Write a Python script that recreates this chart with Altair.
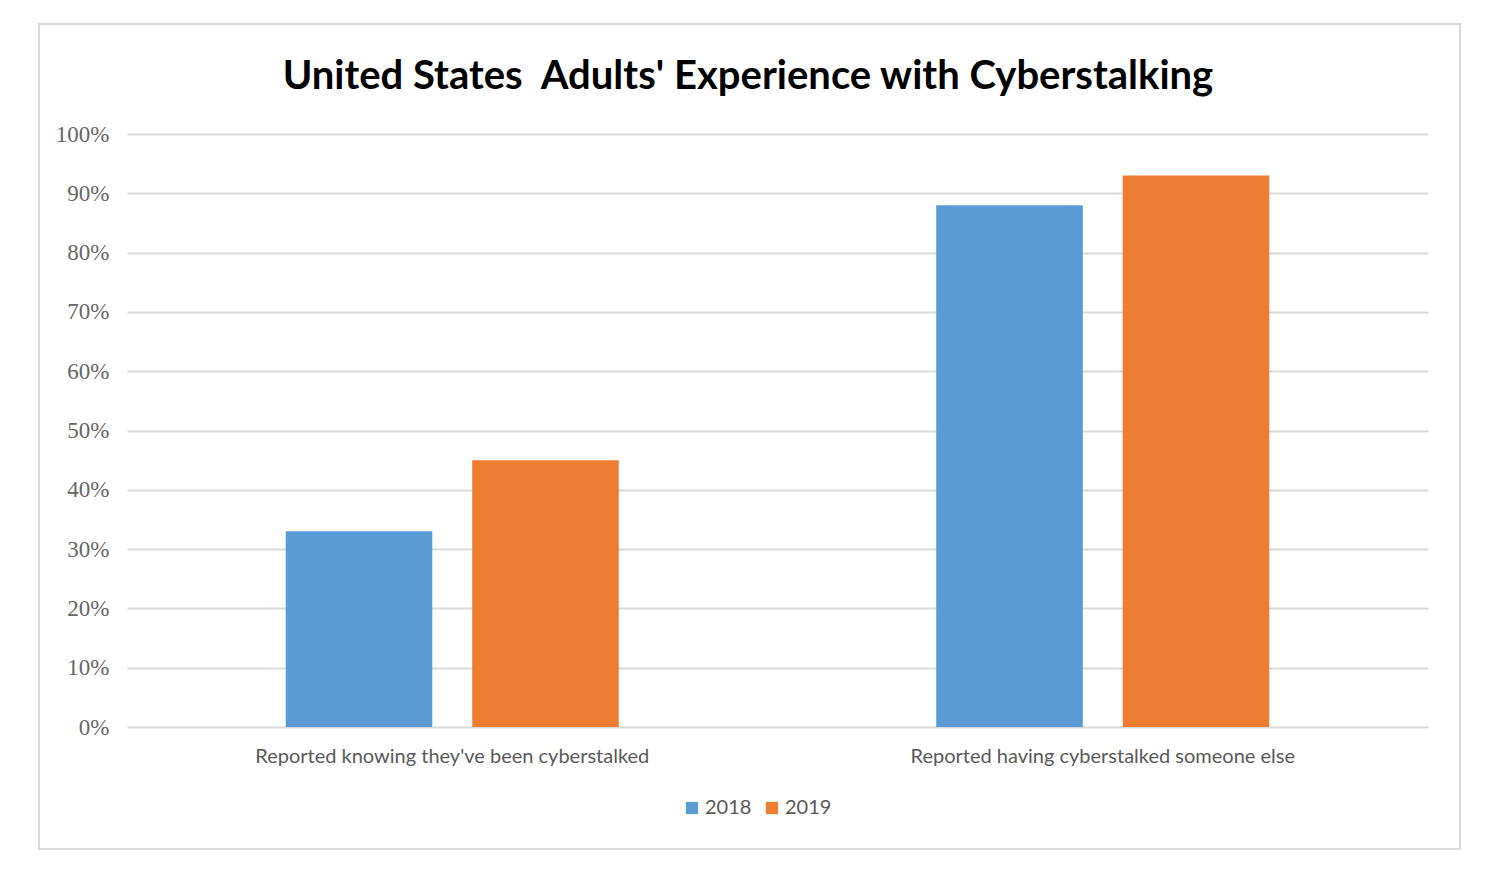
import altair as alt
import pandas as pd

categories = ["Reported knowing they've been cyberstalked", "Reported having cyberstalked someone else"]
years = ["2018", "2019"]
values_2018 = [0.33, 0.88]
values_2019 = [0.45, 0.93]
colors = ["#5B9BD5", "#ED7D31"]
title_text = "United States\u00a0 Adults' Experience with Cyberstalking"

rows = []
for i, c in enumerate(categories):
    rows.append({"category": c, "year": "2018", "value": values_2018[i]})
    rows.append({"category": c, "year": "2019", "value": values_2019[i]})
df = pd.DataFrame(rows)

bars = alt.Chart(df).mark_bar().encode(
    x=alt.X("category:N", sort=categories,
            scale=alt.Scale(paddingInner=0.488, paddingOuter=0.244),
            axis=alt.Axis(title=None, labelAngle=0, domain=False, ticks=False,
                          labelFont="Lato", labelFontSize=20, labelColor="#595959",
                          labelPadding=19, labelLimit=700)),
    xOffset=alt.XOffset("year:N", scale=alt.Scale(paddingInner=0.214, paddingOuter=0)),
    y=alt.Y("value:Q", scale=alt.Scale(domain=[0, 1]),
            axis=alt.Axis(title=None, format=".0%", values=[i / 10 for i in range(11)],
                          domain=False, ticks=False, gridColor="#d9d9d9", gridWidth=2,
                          labelFont="Liberation Serif", labelFontSize=23, labelColor="#666666",
                          labelPadding=18)),
    color=alt.Color("year:N", scale=alt.Scale(domain=years, range=colors),
                    legend=alt.Legend(title=None, orient="none", direction="horizontal",
                                      legendX=555, legendY=664, symbolType="square",
                                      symbolSize=150, symbolStrokeWidth=0,
                                      labelFont="Lato", labelFontSize=20, labelColor="#595959",
                                      columnPadding=10, labelOffset=3)),
)

border = alt.Chart(pd.DataFrame({"a": [0]})).mark_rect(
    fill=None, stroke="#d9d9d9", strokeWidth=2, clip=False
).encode(
    x=alt.value(-88), x2=alt.value(1333), y=alt.value(-110), y2=alt.value(715)
)

title = alt.Chart(pd.DataFrame({"t": [title_text]})).mark_text(
    font="Lato", fontSize=40, fontWeight="bold", color="#000000",
    align="center", baseline="alphabetic", clip=False
).encode(
    text="t:N", x=alt.value(621), y=alt.value(-45)
)

chart = alt.layer(border, bars, title).properties(
    width=1301, height=593,
    padding={"left": 119, "top": 126, "right": 50, "bottom": 140},
    autosize=alt.AutoSizeParams(type="none"),
    background="white",
).configure_view(stroke=None)

chart.save("out.html", embed_options={"renderer": "svg", "actions": False})
